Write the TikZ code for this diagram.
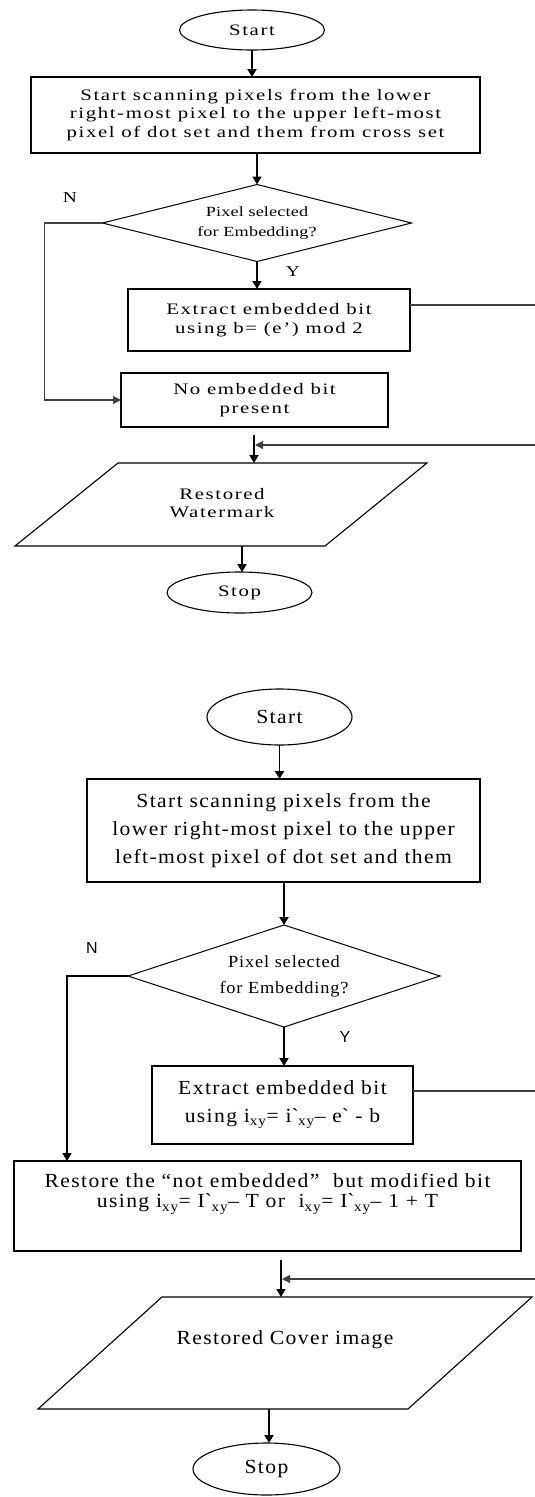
\documentclass[tikz,border=0pt]{standalone}
\usepackage{fontspec}
\setmainfont{Liberation Serif}
\newfontfamily\topfam[FakeStretch=1.3,LetterSpace=10]{Liberation Serif}
\newfontfamily\topdfam[FakeStretch=1.3,LetterSpace=1]{Liberation Serif}
\newfontfamily\botfam[FakeStretch=1.08,LetterSpace=7]{Liberation Serif}
\newfontfamily\botdfam[FakeStretch=1.08,LetterSpace=5]{Liberation Serif}
\newfontfamily\labsans{Liberation Sans}
\newcommand\FTa{\topfam\fontsize{16}{18.5}\selectfont}
\newcommand\FTd{\topdfam\fontsize{14}{20}\selectfont}
\newcommand\FBa{\botfam\fontsize{20}{28}\selectfont}
\newcommand\FBr{\botfam\fontsize{20}{20}\selectfont}
\newcommand\FBd{\botdfam\fontsize{17}{26}\selectfont}
\usetikzlibrary{shapes.geometric,arrows.meta}
\begin{document}
\begin{tikzpicture}[x=1pt,y=-1pt,
  every node/.style={inner sep=0pt,outer sep=0pt},
  box/.style={draw,line width=1.4pt,rectangle,align=center},
  term/.style={draw,line width=1.1pt,ellipse},
  dec/.style={draw,line width=1pt,diamond,align=center},
  para/.style={draw,line width=1.1pt,line join=miter},
  arr/.style={line width=1.8pt,-{Triangle[width=9pt,length=8pt]}},
  conn/.style={line width=1.1pt,draw=black!75},
  carr/.style={conn,-{Triangle[width=8pt,length=8pt]}},
  barr/.style={line width=1.6pt,-{Triangle[width=9pt,length=8pt]}}]
\useasboundingbox (0,0) rectangle (535,1497);

% ---------- upper flowchart ----------
\node[term,minimum width=145pt,minimum height=40pt,font=\FTa] (s1) at (252,30) {Start};
\node[box,minimum width=449pt,minimum height=76pt,font=\FTa] (b1) at (255.5,115)
  {Start scanning pixels from the lower\\right-most pixel to the upper left-most\\pixel of dot set and them from cross set};
\node[dec,aspect=4,minimum width=309pt,minimum height=77pt,font=\FTd] (d1) at (257,223)
  {Pixel selected\\for Embedding?};
\node[font=\topfam\fontsize{15}{15}\selectfont] (n1) at (70,198) {N};
\node[font=\topfam\fontsize{15}{15}\selectfont] (y1) at (293,272) {Y};
\node[box,minimum width=282pt,minimum height=62pt,font=\FTa] (e1) at (269,320)
  {Extract embedded bit\\using b= (e’) mod 2};
\node[box,minimum width=267pt,minimum height=54pt,font=\FTa] (nb) at (254.5,400)
  {No embedded bit\\present};
\coordinate (p1tl) at (118,463);
\coordinate (p1tr) at (427,463);
\coordinate (p1br) at (325,546);
\coordinate (p1bl) at (15,546);
\draw[para] (p1tl) -- (p1tr) -- (p1br) -- (p1bl) -- cycle;
\node[font=\FTa,align=center] (p1) at (222,503) {Restored\\Watermark};
\node[term,minimum width=145pt,minimum height=41pt,font=\FTa] (st1) at (239.5,592.5) {Stop};

\coordinate (r1) at (535,305);
\coordinate (j1) at (254,435);
\coordinate (r2) at (535,445);

\draw[arr] (s1.south) -- (s1.south |- b1.north);
\draw[arr] (b1.south -| d1.north) -- (d1.north);
\draw[carr] (d1.west) -- ++(-58,0) |- (nb.west);
\draw[arr] (d1.south) -- (d1.south |- e1.north);
\draw[conn] (e1.east |- r1) -- (r1);
\draw[arr] (j1) -- (j1 |- p1tl);
\draw[carr] (r2) -- ([xshift=1pt]j1 |- r2);
\draw[arr] (p1bl -| 242,0) -- (st1.north -| 242,0);

% ---------- lower flowchart ----------
\node[term,minimum width=145pt,minimum height=56pt,font=\FBa] (s2) at (279.5,717) {Start};
\node[box,minimum width=393pt,minimum height=103pt,font=\FBa] (b2) at (283.5,830.5)
  {Start scanning pixels from the\\lower right-most pixel to the upper\\left-most pixel of dot set and them};
\node[dec,aspect=3,minimum width=312pt,minimum height=102pt,font=\FBd] (d2) at (284,976)
  {Pixel selected\\for Embedding?};
\node[font=\labsans\fontsize{16}{16}\selectfont] (n2) at (92,948) {N};
\node[font=\labsans\fontsize{16}{16}\selectfont] (y2) at (345,1037) {Y};
\node[box,minimum width=261pt,minimum height=78pt,font=\FBa] (e2) at (282.5,1105)
  {Extract embedded bit\\using i\textsubscript{xy}= i\textasciigrave\textsubscript{xy}– e\textasciigrave\ - b};
\node[box,minimum width=507pt,minimum height=90pt] (rs) at (267.5,1206) {};
\node[font=\FBr,align=center] (rst) at (267.5,1194)
  {Restore the “not embedded”\ \ but modified bit\\using i\textsubscript{xy}= I\textasciigrave\textsubscript{xy}– T or\ \ i\textsubscript{xy}= I\textasciigrave\textsubscript{xy}– 1 + T};
\coordinate (p2tl) at (162,1297);
\coordinate (p2tr) at (532,1297);
\coordinate (p2br) at (408,1409);
\coordinate (p2bl) at (38,1409);
\draw[para] (p2tl) -- (p2tr) -- (p2br) -- (p2bl) -- cycle;
\node[font=\FBa] (p2) at (285,1340) {Restored Cover image};
\node[term,minimum width=147pt,minimum height=52pt,font=\FBa] (st2) at (266.5,1469) {Stop};

\coordinate (r3) at (535,1091);
\coordinate (j2) at (281,1260);
\coordinate (r4) at (535,1279);

\draw[arr] (s2.south) -- (s2.south |- b2.north);
\draw[arr] (b2.south -| d2.north) -- (d2.north);
\draw[barr] (d2.west) -- ++(-61,0) coordinate (k2) -- (k2 |- rs.north);
\draw[arr] (d2.south) -- (d2.south |- e2.north);
\draw[conn] (e2.east |- r3) -- (r3);
\draw[arr] (j2) -- (j2 |- p2tl);
\draw[carr] (r4) -- ([xshift=1pt]j2 |- r4);
\draw[arr] (p2bl -| 269,0) -- (st2.north -| 269,0);
\end{tikzpicture}
\end{document}
